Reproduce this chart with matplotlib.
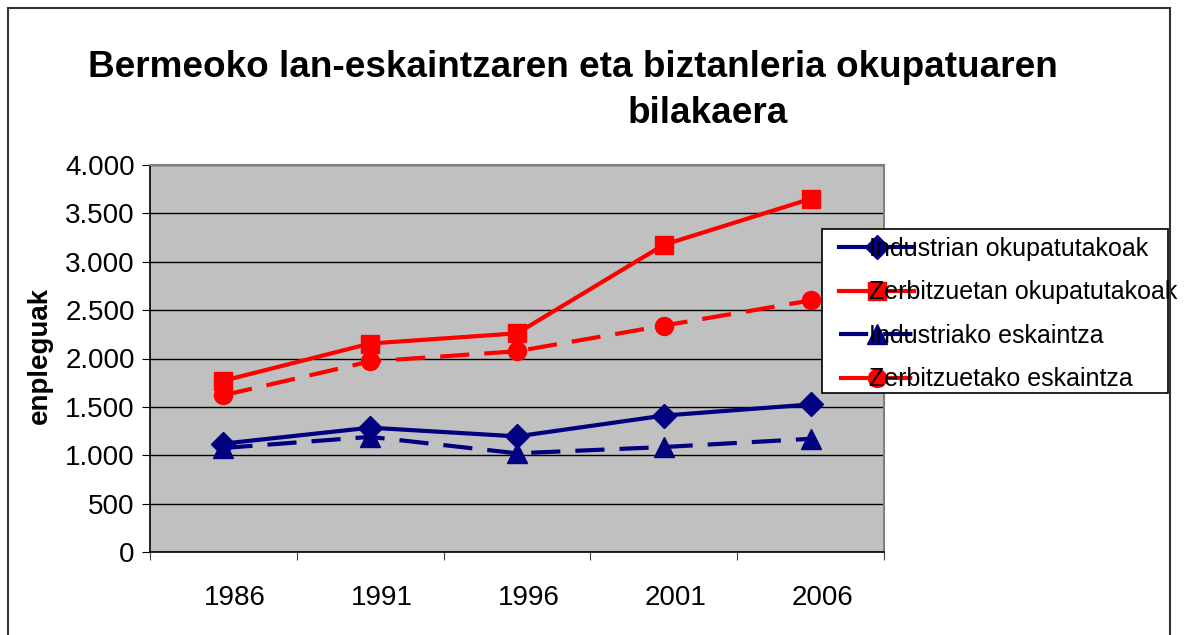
import numpy as np
import matplotlib.pyplot as plt
from matplotlib.patches import Rectangle
from matplotlib.ticker import FuncFormatter, FixedLocator

plt.rcParams['font.family'] = ['Liberation Sans', 'DejaVu Sans']

# data
years = ['1986', '1991', '1996', '2001', '2006']
ind_okup = [1120, 1285, 1195, 1410, 1525]
zer_okup = [1770, 2155, 2260, 3175, 3650]
ind_eskaintza = [1075, 1190, 1020, 1085, 1170]
zer_eskaintza = [1620, 1970, 2075, 2340, 2600]

navy = '#000080'
red = '#FF0000'

fig = plt.figure(figsize=(11.95, 6.35), dpi=100)
ax = fig.add_axes([150 / 1195, 1 - 552 / 635, (884 - 150) / 1195, (552 - 165) / 635])
ax.set_facecolor('#C0C0C0')

x = np.arange(len(years))
lw = 3
ms = 13
dash = (7, 3.6)
ax.plot(x, ind_okup, color=navy, lw=lw, marker='D', ms=ms * 0.95, label='Industrian okupatutakoak')
ax.plot(x, zer_okup, color=red, lw=lw, marker='s', ms=ms, label='Zerbitzuetan okupatutakoak')
ax.plot(x, ind_eskaintza, color=navy, lw=lw, marker='^', ms=ms * 1.1, dashes=dash,
        label='Industriako eskaintza')
ax.plot(x, zer_eskaintza, color=red, lw=lw, marker='o', ms=ms, dashes=dash,
        label='Zerbitzuetako eskaintza')

ax.set_ylim(0, 4000)
ax.set_xlim(-0.5, len(years) - 0.5)
ax.set_yticks(np.arange(0, 4001, 500))
ax.yaxis.set_major_formatter(FuncFormatter(lambda v, p: f'{int(v):,}'.replace(',', '.')))
ax.grid(axis='y', color='black', lw=1)
ax.set_axisbelow(True)

# category boundaries as ticks, labels in the middle
ax.xaxis.set_major_locator(FixedLocator(np.arange(-0.5, len(years), 1.0)))
ax.set_xticklabels([])
ax.xaxis.set_minor_locator(FixedLocator(x + 0.08))
ax.set_xticklabels(years, minor=True)
ax.tick_params(axis='x', which='minor', length=0, pad=24, labelsize=20)
ax.tick_params(axis='x', which='major', length=6, direction='out', color='#404040')
ax.tick_params(axis='y', length=6, direction='out', labelsize=20, pad=5)

for s in ['top', 'right']:
    ax.spines[s].set_color('#808080')
    ax.spines[s].set_linewidth(1.5)
for s in ['left', 'bottom']:
    ax.spines[s].set_color('black')
    ax.spines[s].set_linewidth(1.2)

# titles
fig.text(573 / 1195, 1 - 77 / 635, 'Bermeoko lan-eskaintzaren eta biztanleria okupatuaren',
         ha='center', va='baseline', fontsize=26.6, fontweight='bold')
fig.text(708 / 1195, 1 - 123 / 635, 'bilakaera',
         ha='center', va='baseline', fontsize=26.6, fontweight='bold')
fig.text(40 / 1195, 1 - 355 / 635, 'enpleguak', rotation=90, ha='center', va='center',
         fontsize=20, fontweight='bold')

# legend box
fig.patches.append(Rectangle((822 / 1195, 1 - 393 / 635), (1168 - 822) / 1195, (393 - 229) / 635,
                             transform=fig.transFigure, facecolor='white', edgecolor='black',
                             lw=1.2, zorder=3))
leg = fig.legend(loc='upper left', bbox_to_anchor=(839 / 1195, 1 - 237 / 635), frameon=False,
                 fontsize=18, handlelength=3.0, handletextpad=-1.8, borderpad=0,
                 borderaxespad=0, labelspacing=0.78)
leg.set_zorder(4)

# outer chart border
fig.patches.append(Rectangle((8 / 1195, -0.02), (1170 - 8) / 1195, 1 - 8 / 635 + 0.02,
                             transform=fig.transFigure, facecolor='none', edgecolor='#333333',
                             lw=1.5, zorder=5))

fig.savefig('out.png', dpi=100)
